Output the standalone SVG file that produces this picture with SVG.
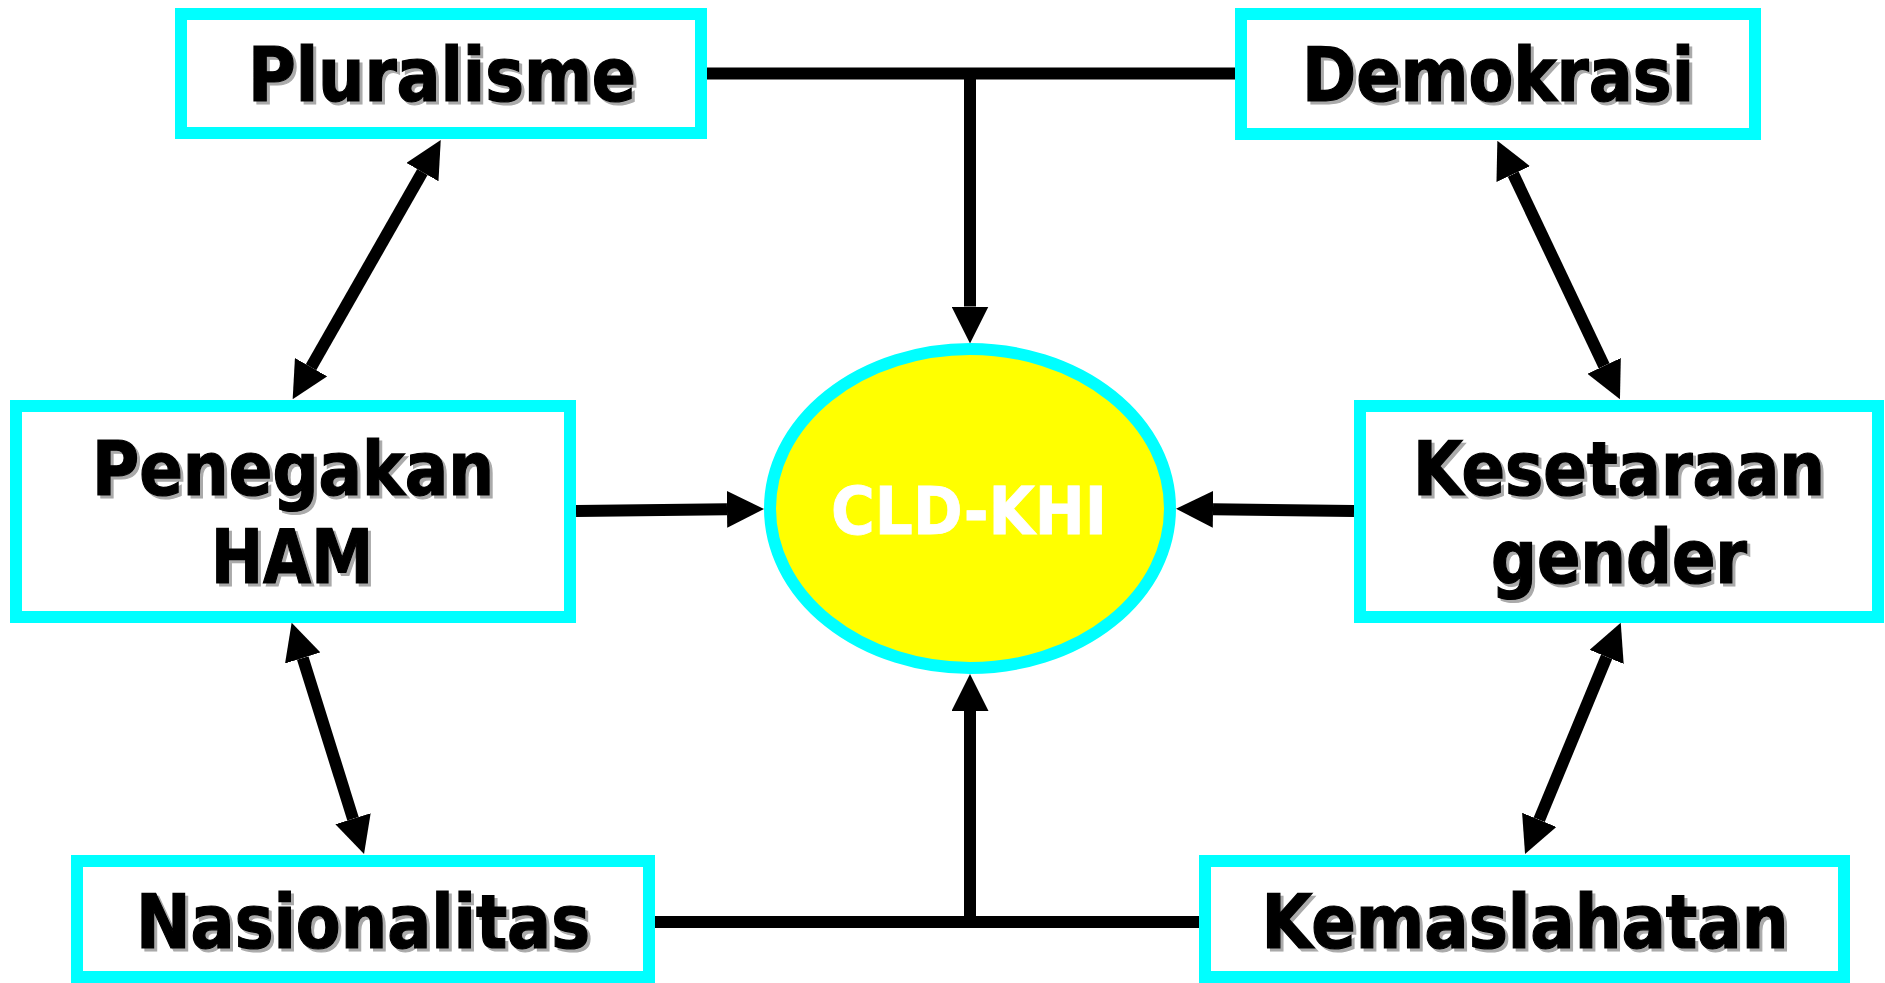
<svg xmlns="http://www.w3.org/2000/svg" width="1885" height="983" viewBox="0 0 1885 983">
<style>
.box{fill:#ffffff;stroke:#00ffff;stroke-width:12}
.lbl{font-family:"DejaVu Sans Condensed","DejaVu Sans","Liberation Sans",sans-serif;font-stretch:condensed;font-weight:bold;font-size:75px;text-anchor:middle;fill:#000000;stroke:#000000;stroke-width:1.2}
.sh{fill:#aaaaaa;stroke:#aaaaaa}
.con{stroke:#000000;stroke-width:12;fill:none}
.ctr{font-family:"DejaVu Sans Condensed","DejaVu Sans","Liberation Sans",sans-serif;font-stretch:condensed;font-weight:bold;font-size:66px;text-anchor:middle;fill:#ffffff;stroke:#ffffff;stroke-width:0.8}
</style>
<defs>
<marker id="ah" viewBox="0 0 37 37" refX="0" refY="18.5" markerWidth="37" markerHeight="37" markerUnits="userSpaceOnUse" orient="auto-start-reverse">
<path d="M0,0 L37,18.5 L0,37 Z" fill="#000000"/>
</marker>
</defs>
<rect width="1885" height="983" fill="#ffffff"/>
<g id="connectors">
<path class="con" d="M707,73.5 H1235"/>
<path class="con" d="M970,73.5 V306.5" marker-end="url(#ah)"/>
<path class="con" d="M655,922 H1199"/>
<path class="con" d="M970,922 V711" marker-end="url(#ah)"/>
<path class="con" d="M576,511 L727,509.3" marker-end="url(#ah)"/>
<path class="con" d="M1354,511 L1213,509.3" marker-end="url(#ah)"/>
<path class="con" d="M422.4,172.1 L311,367.2" marker-start="url(#ah)" marker-end="url(#ah)"/>
<path class="con" d="M1513.2,174.1 L1604.1,365.9" marker-start="url(#ah)" marker-end="url(#ah)"/>
<path class="con" d="M302.7,658 L353,818.7" marker-start="url(#ah)" marker-end="url(#ah)"/>
<path class="con" d="M1606.6,656.9 L1539.2,819.8" marker-start="url(#ah)" marker-end="url(#ah)"/>
</g>
<g id="cld-khi">
<ellipse cx="970" cy="508.5" rx="200" ry="159.5" fill="#ffff00" stroke="#00ffff" stroke-width="12"/>
<text class="ctr" x="969" y="534" textLength="276" lengthAdjust="spacingAndGlyphs">CLD-KHI</text>
</g>
<g id="pluralisme">
<rect class="box" x="181" y="14" width="520" height="119"/>
<text class="lbl sh" x="445" y="104" textLength="388" lengthAdjust="spacingAndGlyphs">Pluralisme</text>
<text class="lbl" x="442" y="101" textLength="388" lengthAdjust="spacingAndGlyphs">Pluralisme</text>
</g>
<g id="demokrasi">
<rect class="box" x="1241" y="14" width="514" height="120"/>
<text class="lbl sh" x="1501" y="104" textLength="392" lengthAdjust="spacingAndGlyphs">Demokrasi</text>
<text class="lbl" x="1498" y="101" textLength="392" lengthAdjust="spacingAndGlyphs">Demokrasi</text>
</g>
<g id="penegakan-ham">
<rect class="box" x="16" y="406" width="554" height="211"/>
<text class="lbl sh" x="296" y="498" textLength="402" lengthAdjust="spacingAndGlyphs">Penegakan</text>
<text class="lbl" x="293" y="495" textLength="402" lengthAdjust="spacingAndGlyphs">Penegakan</text>
<text class="lbl sh" x="295" y="586" textLength="162" lengthAdjust="spacingAndGlyphs">HAM</text>
<text class="lbl" x="292" y="583" textLength="162" lengthAdjust="spacingAndGlyphs">HAM</text>
</g>
<g id="kesetaraan-gender">
<rect class="box" x="1360" y="406" width="518" height="211"/>
<text class="lbl sh" x="1622" y="498" textLength="412" lengthAdjust="spacingAndGlyphs">Kesetaraan</text>
<text class="lbl" x="1619" y="495" textLength="412" lengthAdjust="spacingAndGlyphs">Kesetaraan</text>
<text class="lbl sh" x="1622" y="586" textLength="256" lengthAdjust="spacingAndGlyphs">gender</text>
<text class="lbl" x="1619" y="583" textLength="256" lengthAdjust="spacingAndGlyphs">gender</text>
</g>
<g id="nasionalitas">
<rect class="box" x="77" y="861" width="572" height="116"/>
<text class="lbl sh" x="366" y="951" textLength="454" lengthAdjust="spacingAndGlyphs">Nasionalitas</text>
<text class="lbl" x="363" y="948" textLength="454" lengthAdjust="spacingAndGlyphs">Nasionalitas</text>
</g>
<g id="kemaslahatan">
<rect class="box" x="1205" y="861" width="639" height="116"/>
<text class="lbl sh" x="1528" y="951" textLength="527" lengthAdjust="spacingAndGlyphs">Kemaslahatan</text>
<text class="lbl" x="1525" y="948" textLength="527" lengthAdjust="spacingAndGlyphs">Kemaslahatan</text>
</g>
</svg>
